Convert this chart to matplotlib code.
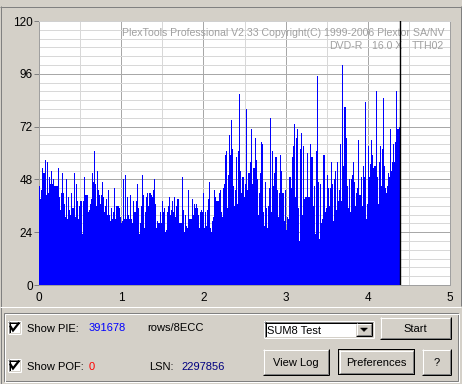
import numpy as np
import matplotlib
matplotlib.use("Agg")
import matplotlib.pyplot as plt
from matplotlib.patches import Rectangle, Polygon

# PIE (sum of 8 ECC blocks) per sample, left to right
pie = [
    45, 39, 43, 53, 51, 51, 57, 41, 56, 42, 49, 46, 52, 46, 48, 45, 45, 45, 45, 53,
    40, 34, 42, 51, 42, 37, 31, 48, 30, 40, 34, 32, 42, 35, 35, 51, 31, 46, 38, 30,
    36, 38, 38, 23, 38, 49, 41, 41, 41, 33, 34, 37, 39, 51, 47, 61, 46, 36, 52, 43,
    41, 37, 41, 47, 40, 33, 36, 39, 32, 43, 32, 29, 35, 30, 33, 44, 30, 36, 36, 36,
    35, 31, 28, 29, 48, 30, 50, 30, 40, 32, 30,
    41, 30, 28, 38, 33, 33, 38, 46, 35, 23, 28, 36, 50, 41, 26, 33, 40, 42, 36, 42,
    42, 41, 40, 43, 48, 37, 26, 29, 28, 28, 33, 28, 38, 33, 35, 24, 25, 33, 36, 40,
    32, 34, 38, 33, 40, 31, 36, 39, 39, 28, 28, 28, 49, 34, 24, 32, 27, 26, 43, 30,
    30, 30, 39, 32, 37, 35, 37, 35, 32, 26, 33, 34, 33, 42, 26, 33, 27, 34, 39, 47,
    26, 24, 29, 31, 43, 40, 38, 38, 38,
    42, 43, 33, 31, 44, 46, 59, 61, 35, 50, 68, 59, 75, 62, 45, 36, 43, 58, 37, 61,
    87, 52, 42, 49, 49, 40, 46, 80, 43, 51, 56, 71, 46, 53, 53, 67, 57, 48, 32, 42,
    51, 65, 64, 33, 27, 47, 35, 26, 36, 44, 76, 33, 61, 45, 51, 58, 58, 43, 31, 42,
    59, 52, 42, 42, 29, 43, 25, 31, 30, 49, 49, 44, 58, 63, 73, 40, 67, 71, 35, 20,
    62, 69, 32, 63, 39, 40, 40, 60, 40, 40,
    64, 58, 58, 36, 45, 23, 61, 95, 47, 21, 46, 28, 30, 59, 59, 33, 35, 50, 44, 36,
    44, 56, 46, 29, 48, 52, 34, 56, 38, 43, 64, 38, 100, 54, 81, 81, 67, 45, 35, 48,
    33, 48, 50, 56, 47, 36, 42, 44, 66, 41, 41, 49, 36, 54, 49, 83, 30, 37, 63, 49,
    55, 66, 59, 53, 54, 54, 88, 49, 37, 56, 63, 45, 62, 85, 54, 44, 42, 45, 51, 49,
    71, 52, 56, 64, 56, 65, 88, 71, 71, 72,
]
x_end = 4.39          # last tested position (GB)
x_max = 5
y_max = 120
y_ticks = [0, 24, 48, 72, 96, 120]
x_ticks = [0, 1, 2, 3, 4, 5]

header_1 = "PlexTools Professional V2.33 Copyright(C) 1999-2006 Plextor SA/NV"
header_2 = ["DVD-R", "16.0 X", "TTH02"]
pie_total = "391678"
pof_total = "0"
lsn = "2297856"

FACE = "#D4D0C8"
DARK = "#808080"
PX = 0.72  # one pixel in points at dpi 100
FONT = "Liberation Sans"

plt.rcParams["font.family"] = [FONT, "DejaVu Sans"]

fig = plt.figure(figsize=(4.62, 3.84), dpi=100, facecolor=FACE)

# pixel-space layer for the window chrome
ui = fig.add_axes([0, 0, 1, 1], zorder=0)
ui.set_xlim(0, 462)
ui.set_ylim(384, 0)
ui.axis("off")
ui.set_facecolor(FACE)


def hline(x0, x1, y, c):
    ui.plot([x0, x1], [y + 0.5, y + 0.5], color=c, lw=PX, solid_capstyle="butt")


def vline(x, y0, y1, c):
    ui.plot([x + 0.5, x + 0.5], [y0, y1], color=c, lw=PX, solid_capstyle="butt")


def raised(x0, y0, x1, y1, default=False):
    if default:
        ui.add_patch(Rectangle((x0, y0), x1 - x0, y1 - y0, fc="black", ec="none"))
        x0, y0, x1, y1 = x0 + 1, y0 + 1, x1 - 1, y1 - 1
    ui.add_patch(Rectangle((x0, y0), x1 - x0, y1 - y0, fc=FACE, ec="none"))
    hline(x0, x1 - 1, y0, "white")
    vline(x0, y0, y1 - 1, "white")
    hline(x0, x1, y1 - 1, "black")
    vline(x1 - 1, y0, y1, "black")
    hline(x0 + 1, x1 - 1, y1 - 2, DARK)
    vline(x1 - 2, y0 + 1, y1 - 1, DARK)


def sunken(x0, y0, x1, y1):
    ui.add_patch(Rectangle((x0, y0), x1 - x0, y1 - y0, fc="white", ec="none"))
    hline(x0, x1, y0, DARK)
    vline(x0, y0, y1, DARK)
    hline(x0 + 1, x1 - 1, y0 + 1, "black")
    vline(x0 + 1, y0 + 1, y1 - 1, "black")
    hline(x0, x1, y1 - 1, "white")
    vline(x1 - 1, y0, y1, "white")
    hline(x0 + 1, x1 - 1, y1 - 2, FACE)
    vline(x1 - 2, y0 + 1, y1 - 1, FACE)


def groupbox(x0, y0, x1, y1):
    ui.add_patch(Rectangle((x0 + 0.5, y0 + 0.5), x1 - x0 - 1, y1 - y0 - 1,
                           fc="none", ec=DARK, lw=PX))
    ui.add_patch(Rectangle((x0 + 1.5, y0 + 1.5), x1 - x0 - 1, y1 - y0 - 1,
                           fc="none", ec="white", lw=PX))


# outer chart panel
hline(0, 461, 6, DARK)
vline(0, 6, 384, DARK)
vline(460, 6, 306, DARK)
hline(0, 461, 306, "white")

# lower group box
groupbox(3, 312, 458, 381)


def checkbox(x0, y0):
    sunken(x0, y0, x0 + 13, y0 + 13)
    ui.plot([x0 + 2.5, x0 + 5, x0 + 10.5], [y0 + 5.5, y0 + 9.5, y0 + 2.5],
            color="black", lw=1.6, solid_joinstyle="miter")


checkbox(8, 321)
checkbox(8, 359)

txt = dict(fontsize=8, va="baseline", ha="left")
ui.text(27, 331.5, "Show PIE:", color="black", **txt)
ui.text(89, 331, pie_total, color="#0000FF", **txt)
ui.text(147, 331, "rows/8ECC", color="black", **txt)
ui.text(27, 370, "Show POF:", color="black", **txt)
ui.text(89, 369.5, pof_total, color="#FF0000", **txt)
ui.text(149, 369.5, "LSN:", color="black", **txt)
ui.text(181, 369.5, lsn, color="#000080", **txt)

# combo box
sunken(264, 321, 374, 338)
ui.text(267, 334, "SUM8 Test", color="black", **txt)
raised(356, 323, 372, 336)
ui.add_patch(Polygon([[360.5, 328], [367.5, 328], [364, 331.5]], closed=True,
                     fc="black", ec="black", lw=0.3))

# buttons
raised(380, 317, 451, 339)
ui.text(415.5, 331.5, "Start", color="black", fontsize=8, ha="center", va="baseline")
raised(263, 349, 329, 375)
ui.text(296, 366.5, "View Log", color="black", fontsize=8, ha="center", va="baseline")
raised(338, 349, 415, 375, default=True)
ui.text(376.5, 366.5, "Preferences", color="black", fontsize=8, ha="center", va="baseline")
raised(422, 349, 451, 375)
ui.text(436.5, 366.5, "?", color="black", fontsize=8, ha="center", va="baseline")

# the chart itself
ax = fig.add_axes([39 / 462, 1 - 285 / 384, (450 - 39) / 462, (285 - 21) / 384], zorder=1)
ax.set_facecolor("white")
ax.set_xlim(0, x_max)
ax.set_ylim(0, y_max)

edges = np.linspace(0, x_end, len(pie) + 1)
ax.stairs(pie, edges, fill=True, color="#0000FF", lw=0, zorder=3)
ax.axvline(x_end, color="black", lw=1.0, zorder=4)

ax.set_xticks(x_ticks)
ax.set_xticks(np.arange(0, x_max + 0.01, 0.5), minor=True)
ax.set_yticks(y_ticks)
ax.set_yticks(np.arange(0, y_max + 1, 4), minor=True)
ax.grid(which="minor", color="#D8D8D8", lw=PX)
ax.grid(which="major", color="#A8A8A8", lw=PX)
ax.set_axisbelow(True)

ax.tick_params(axis="x", which="both", length=0, pad=5, labelsize=8.5)
ax.tick_params(axis="y", which="major", length=3.6, width=PX, color="#808080",
               pad=0.8, labelsize=8.5)
ax.tick_params(axis="y", which="minor", length=0)
for s in ax.spines.values():
    s.set_color("#A0A0A0")
    s.set_linewidth(PX)
ax.spines["top"].set_color("#D0D0D0")

# header text inside the plot
ax.text(444, 36, header_1, transform=ui.transData, ha="right", va="baseline",
        color="#A0A0A0", fontsize=7.6, zorder=2)
for label, right in zip(header_2, [362, 402, 444]):
    ax.text(right, 49, label, transform=ui.transData, ha="right", va="baseline",
            color="#A0A0A0", fontsize=7.6, zorder=2)

fig.savefig("out.png", dpi=100, facecolor=FACE)
